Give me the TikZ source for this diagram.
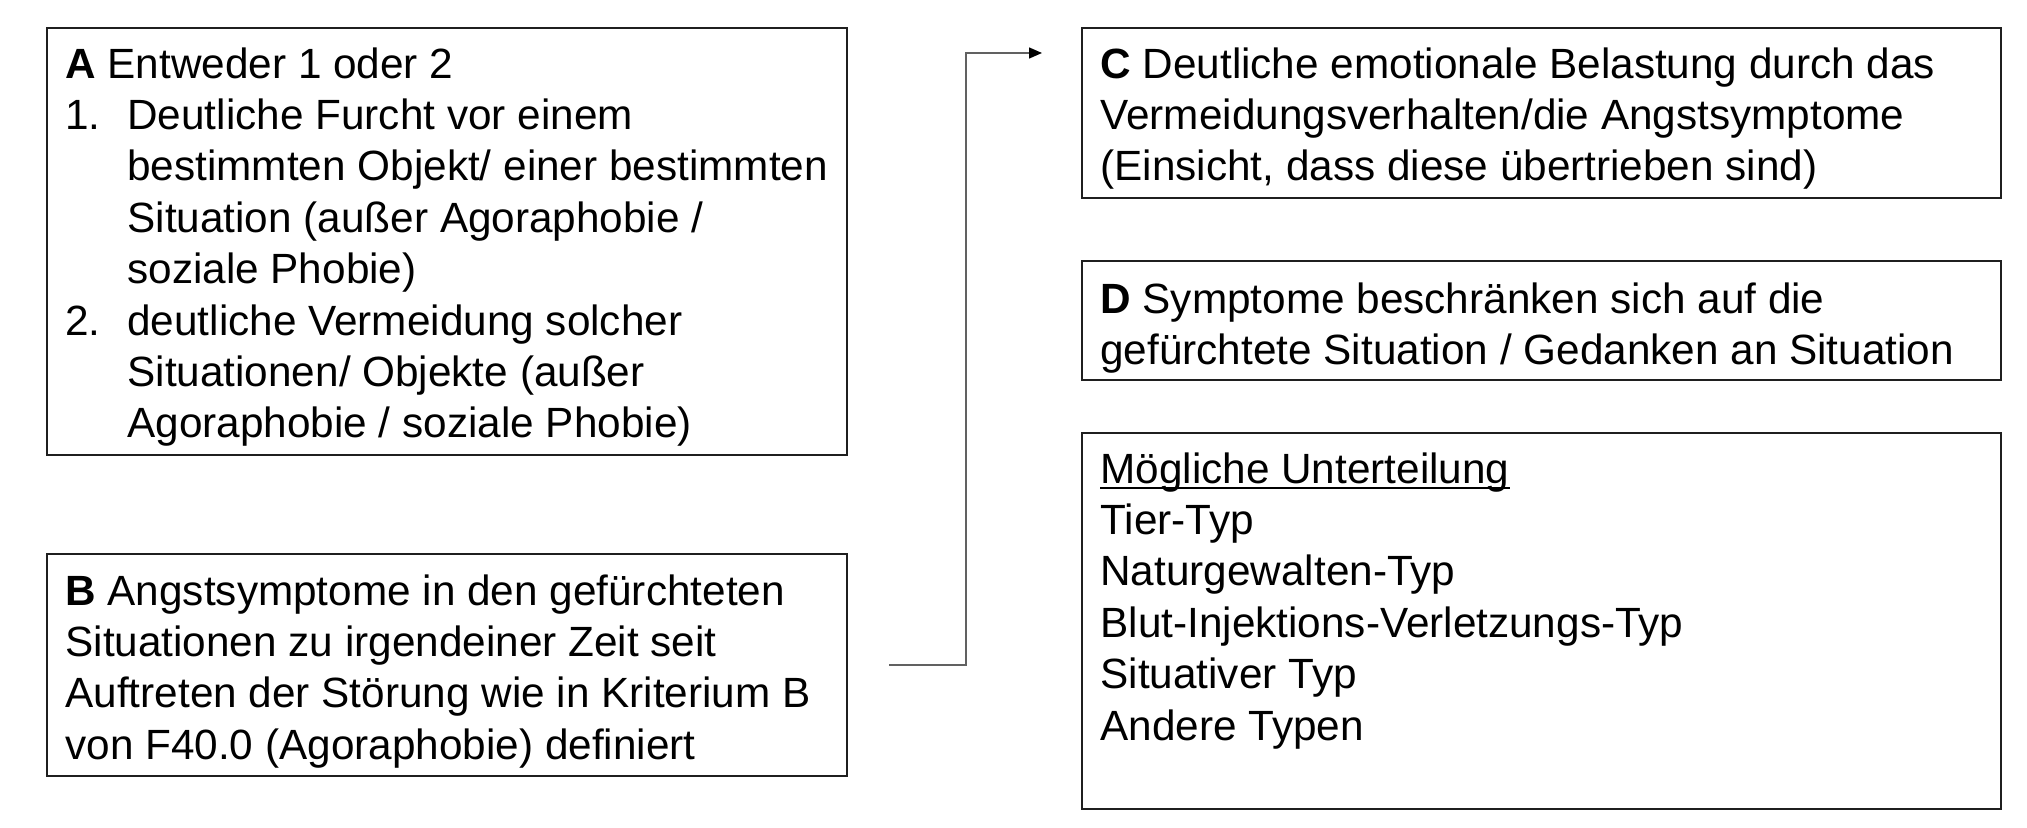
\documentclass[tikz,border=0pt]{standalone}
\usepackage{fontspec}
\setmainfont{Liberation Sans}
\usetikzlibrary{arrows.meta,fit}
\newcommand\ulthick[1]{\setbox0\hbox{#1}\rlap{\rule[-3.2pt]{\wd0}{1.2pt}}\box0}
\begin{document}
\begin{tikzpicture}[x=0.5pt,y=-0.5pt,
  box/.style={draw=black!88,line width=1pt,inner sep=0pt},
  txt/.style={anchor=north west,inner sep=0pt,align=left,font=\fontsize{21.15}{25.7}\selectfont},
  conn/.style={draw=black!62,line width=0.7pt,-{Triangle[length=6.5pt,width=5.5pt,color=black]}}]
\useasboundingbox (0,0) rectangle (2027,828);
\node[box,fit={(47,28) (847,455)}] (A) {};
\node[box,fit={(47,554) (847,776)}] (B) {};
\node[box,fit={(1082,28) (2001,198)}] (C) {};
\node[box,fit={(1082,261) (2001,380)}] (D) {};
\node[box,fit={(1082,433) (2001,809)}] (E) {};
\node[txt] (At) at (65,47) {\textbf{A} Entweder 1 oder 2\\
\makebox[31pt][l]{1.}Deutliche Furcht vor einem\\
\hspace*{31pt}bestimmten Objekt/ einer bestimmten\\
\hspace*{31pt}Situation (außer Agoraphobie /\\
\hspace*{31pt}soziale Phobie)\\
\makebox[31pt][l]{2.}deutliche Vermeidung solcher\\
\hspace*{31pt}Situationen/ Objekte (außer\\
\hspace*{31pt}Agoraphobie / soziale Phobie)};
\node[txt] (Bt) at (65,574) {\textbf{B} Angstsymptome in den gefürchteten\\
Situationen zu irgendeiner Zeit seit\\
Auftreten der Störung wie in Kriterium B\\
von F40.0 (Agoraphobie) definiert};
\node[txt] (Ct) at (1100,47) {\textbf{C} Deutliche emotionale Belastung durch das\\
Vermeidungsverhalten/die Angstsymptome\\
(Einsicht, dass diese übertrieben sind)};
\node[txt] (Dt) at (1100,282) {\textbf{D} Symptome beschränken sich auf die\\
gefürchtete Situation / Gedanken an Situation};
\node[txt] (Et) at (1100,452) {\ulthick{Mögliche Unterteilung}\\
Tier-Typ\\
Naturgewalten-Typ\\
Blut-Injektions-Verletzungs-Typ\\
Situativer Typ\\
Andere Typen};
\coordinate (s) at (889,665);
\coordinate (k) at (966,0);
\coordinate (e) at (1042,53);
\draw[conn] (s) -- (s -| k) -- (k |- e) -- (e);
\end{tikzpicture}
\end{document}
